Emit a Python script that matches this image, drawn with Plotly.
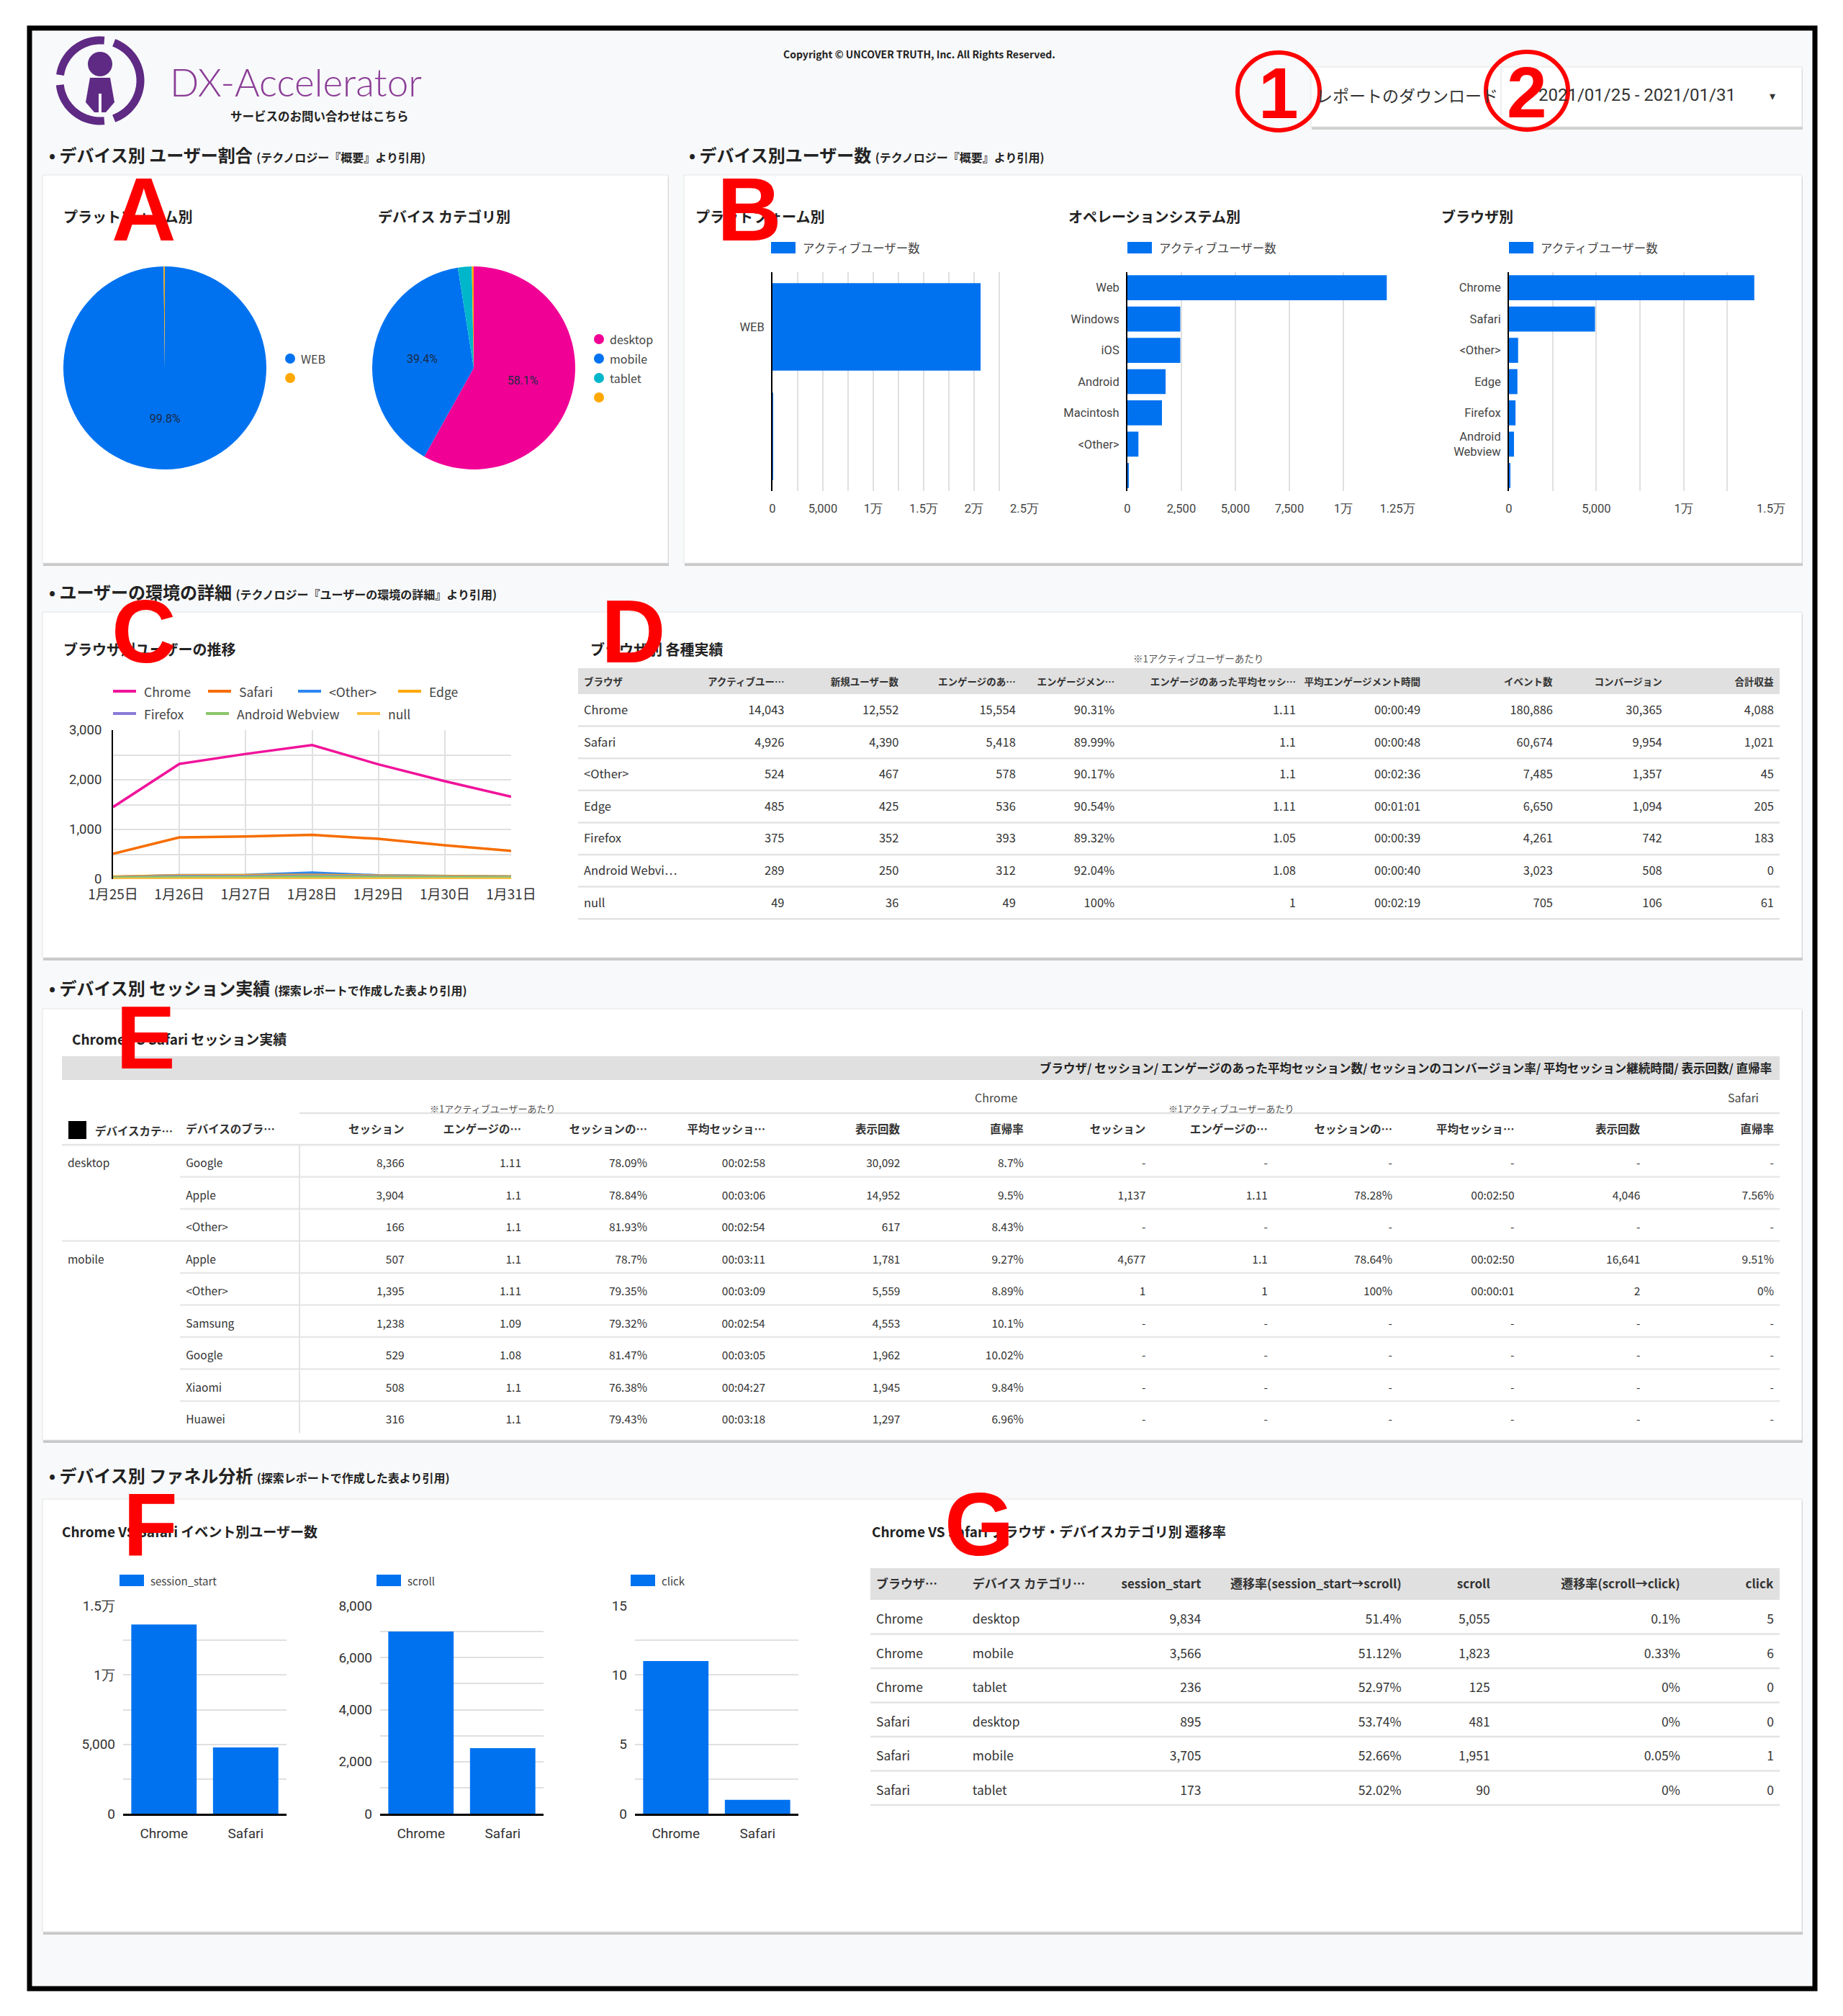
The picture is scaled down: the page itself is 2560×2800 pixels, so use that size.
import numpy as np
import plotly.graph_objects as go

W, H = 2560, 2800
OFF = 8  # page body margin
def X(p): return (p - OFF) / W
def Y(p): return 1 - (p - OFF) / H

FONT = "Noto Sans CJK JP, Roboto, sans-serif"
TXT = "#333333"
GRID = "#e0e0e0"
BLUE = "#0072f0"
MAGENTA = "#f10096"
TEAL = "#00b6cb"
ORANGE = "#ffa800"

# ---------------- DATA ----------------
platform_labels = ["WEB", ""]
platform_pct = [99.8, 0.2]
device_labels = ["desktop", "mobile", "tablet", ""]
device_pct = [58.1, 39.4, 2.2, 0.3]

platform_cats = ["WEB", " "]
platform_users = [20650, 41]
os_cats = ["Web", "Windows", "iOS", "Android", "Macintosh", "<Other>", " "]
os_users = [12010, 2450, 2450, 1770, 1600, 510, 60]
browser_cats = ["Chrome", "Safari", "<Other>", "Edge", "Firefox", "Android<br>Webview", " "]
browser_users = [14043, 4926, 524, 485, 375, 289, 49]

b1_tickvals = [0, 5000, 10000, 15000, 20000, 25000]
b1_ticktext = ["0", "5,000", "1万", "1.5万", "2万", "2.5万"]
b2_tickvals = [0, 2500, 5000, 7500, 10000, 12500]
b2_ticktext = ["0", "2,500", "5,000", "7,500", "1万", "1.25万"]
b3_tickvals = [0, 5000, 10000, 15000]
b3_ticktext = ["0", "5,000", "1万", "1.5万"]

dates = ["1月25日", "1月26日", "1月27日", "1月28日", "1月29日", "1月30日", "1月31日"]
chrome_trend = [1450, 2320, 2520, 2700, 2310, 1970, 1660]
safari_trend = [510, 840, 860, 890, 810, 680, 570]
other_trend = [45, 80, 85, 130, 75, 60, 50]
edge_trend = [50, 75, 80, 85, 70, 65, 55]
firefox_trend = [35, 60, 60, 65, 55, 50, 45]
webview_trend = [30, 45, 45, 50, 40, 40, 35]
null_trend = [4, 8, 8, 9, 7, 6, 6]
trend_names = ["Chrome", "Safari", "<Other>", "Edge", "Firefox", "Android Webview", "null"]
trend_colors = ["#f0139a", "#f66d00", "#2d86f0", "#ffa800", "#8a7ad8", "#8cc569", "#ffbe45"]
trend_values = [chrome_trend, safari_trend, other_trend, edge_trend,
                firefox_trend, webview_trend, null_trend]
c_ytickvals = [0, 1000, 2000, 3000]
c_yticktext = ["0", "1,000", "2,000", "3,000"]

d_headers = ["ブラウザ", "アクティブユー…", "新規ユーザー数", "エンゲージのあ…", "エンゲージメン…",
             "エンゲージのあった平均セッシ…", "平均エンゲージメント時間", "イベント数", "コンバージョン", "合計収益"]
d_browser = ["Chrome", "Safari", "&lt;Other&gt;", "Edge", "Firefox", "Android\u00a0Webvi…", "null"]
d_active = ["14,043", "4,926", "524", "485", "375", "289", "49"]
d_new = ["12,552", "4,390", "467", "425", "352", "250", "36"]
d_engaged = ["15,554", "5,418", "578", "536", "393", "312", "49"]
d_eng_rate = ["90.31%", "89.99%", "90.17%", "90.54%", "89.32%", "92.04%", "100%"]
d_eng_sess = ["1.11", "1.1", "1.1", "1.11", "1.05", "1.08", "1"]
d_eng_time = ["00:00:49", "00:00:48", "00:02:36", "00:01:01", "00:00:39", "00:00:40", "00:02:19"]
d_events = ["180,886", "60,674", "7,485", "6,650", "4,261", "3,023", "705"]
d_conv = ["30,365", "9,954", "1,357", "1,094", "742", "508", "106"]
d_revenue = ["4,088", "1,021", "45", "205", "183", "0", "61"]

e_first_header = "デバイスカテ…"
e_headers = ["", "デバイスのブラ…", "セッション", "エンゲージの…", "セッションの…",
             "平均セッショ…", "表示回数", "直帰率", "セッション", "エンゲージの…", "セッションの…",
             "平均セッショ…", "表示回数", "直帰率"]
e_category = ["desktop", "", "", "mobile", "", "", "", "", ""]
e_brand = ["Google", "Apple", "&lt;Other&gt;", "Apple", "&lt;Other&gt;", "Samsung", "Google", "Xiaomi", "Huawei"]
e_ch_sessions = ["8,366", "3,904", "166", "507", "1,395", "1,238", "529", "508", "316"]
e_ch_eng = ["1.11", "1.1", "1.1", "1.1", "1.11", "1.09", "1.08", "1.1", "1.1"]
e_ch_conv = ["78.09%", "78.84%", "81.93%", "78.7%", "79.35%", "79.32%", "81.47%", "76.38%", "79.43%"]
e_ch_dur = ["00:02:58", "00:03:06", "00:02:54", "00:03:11", "00:03:09", "00:02:54", "00:03:05", "00:04:27", "00:03:18"]
e_ch_views = ["30,092", "14,952", "617", "1,781", "5,559", "4,553", "1,962", "1,945", "1,297"]
e_ch_bounce = ["8.7%", "9.5%", "8.43%", "9.27%", "8.89%", "10.1%", "10.02%", "9.84%", "6.96%"]
e_sf_sessions = ["-", "1,137", "-", "4,677", "1", "-", "-", "-", "-"]
e_sf_eng = ["-", "1.11", "-", "1.1", "1", "-", "-", "-", "-"]
e_sf_conv = ["-", "78.28%", "-", "78.64%", "100%", "-", "-", "-", "-"]
e_sf_dur = ["-", "00:02:50", "-", "00:02:50", "00:00:01", "-", "-", "-", "-"]
e_sf_views = ["-", "4,046", "-", "16,641", "2", "-", "-", "-", "-"]
e_sf_bounce = ["-", "7.56%", "-", "9.51%", "0%", "-", "-", "-", "-"]

f_browsers = ["Chrome", "Safari"]
f_session_start = [13636, 4773]
f_scroll = [7003, 2522]
f_click = [11, 1]
f1_tickvals = [0, 5000, 10000, 15000]
f1_ticktext = ["0", "5,000", "1万", "1.5万"]
f2_tickvals = [0, 2000, 4000, 6000, 8000]
f2_ticktext = ["0", "2,000", "4,000", "6,000", "8,000"]
f3_tickvals = [0, 5, 10, 15]
f3_ticktext = ["0", "5", "10", "15"]

g_headers = ["ブラウザ…", "デバイス カテゴリ…", "session_start", "遷移率(session_start→scroll)",
             "scroll", "遷移率(scroll→click)", "click"]
g_browser = ["Chrome", "Chrome", "Chrome", "Safari", "Safari", "Safari"]
g_device = ["desktop", "mobile", "tablet", "desktop", "mobile", "tablet"]
g_session = ["9,834", "3,566", "236", "895", "3,705", "173"]
g_rate1 = ["51.4%", "51.12%", "52.97%", "53.74%", "52.66%", "52.02%"]
g_scroll = ["5,055", "1,823", "125", "481", "1,951", "90"]
g_rate2 = ["0.1%", "0.33%", "0%", "0%", "0.05%", "0%"]
g_click = ["5", "6", "0", "0", "1", "0"]

# ---------------- FIGURE ----------------
fig = go.Figure()
shapes = []
annots = []

def txt(x, y, s, size, color=TXT, xanchor="left", family=FONT, yanchor="middle"):
    annots.append(dict(x=X(x), y=Y(y), xref="paper", yref="paper", text=s, showarrow=False,
                       xanchor=xanchor, yanchor=yanchor,
                       font=dict(size=size, color=color, family=family)))

def rect(x0, y0, x1, y1, fill, line="rgba(0,0,0,0)", lw=0, layer="below"):
    shapes.append(dict(type="rect", xref="paper", yref="paper", x0=X(x0), x1=X(x1), y0=Y(y1), y1=Y(y0),
                       fillcolor=fill, line=dict(color=line, width=lw), layer=layer))

def hline(x0, x1, y, color=GRID, lw=2, layer="below"):
    shapes.append(dict(type="line", xref="paper", yref="paper", x0=X(x0), x1=X(x1), y0=Y(y), y1=Y(y),
                       line=dict(color=color, width=lw), layer=layer))

def vline(x, y0, y1, color=GRID, lw=2):
    shapes.append(dict(type="line", xref="paper", yref="paper", x0=X(x), x1=X(x), y0=Y(y0), y1=Y(y1),
                       line=dict(color=color, width=lw), layer="below"))

def panel(x0, y0, x1, y1):
    rect(x0 + 1, y0 + 3, x1 + 1, y1 + 4, "#c8c8c8")
    rect(x0, y0, x1, y1, "#ffffff", "#e4e4e4", 1)

# outer frame + background
rect(41, 39, 2521, 2762, "#f8f9fa", "#000000", 7)

# panels
panel(59, 243, 928, 782)
panel(950, 243, 2503, 782)
panel(59, 850, 2503, 1330)
panel(59, 1401, 2503, 2000)
panel(59, 2082, 2503, 2683)

# ---------- header ----------
PURPLE = "#5e2a84"
cx, cy, rr = 139, 112, 56
gaps = [(70, 84), (172, 186), (276, 290)]
starts = [g[1] for g in gaps]
ends = [gaps[(i + 1) % 3][0] + (360 if i == 2 else 0) for i in range(3)]
for a0, a1 in zip(starts, ends):
    ang = np.radians(np.linspace(a0, a1, 40))
    pts = [(cx + rr * np.cos(a), cy - rr * np.sin(a)) for a in ang]
    path = "M " + " L ".join(f"{X(px):.5f},{Y(py):.5f}" for px, py in pts)
    shapes.append(dict(type="path", xref="paper", yref="paper", path=path,
                       line=dict(color=PURPLE, width=11), layer="above"))
shapes.append(dict(type="circle", xref="paper", yref="paper", x0=X(cx - 17), x1=X(cx + 17),
                   y0=Y(cy - 6), y1=Y(cy - 40), fillcolor=PURPLE, line=dict(width=0), layer="above"))
body = [(cx - 14, cy - 4), (cx + 14, cy - 4), (cx + 20, cy + 30), (cx + 8, cy + 44),
        (cx - 8, cy + 44), (cx - 20, cy + 30)]
shapes.append(dict(type="path", xref="paper", yref="paper",
                   path="M " + " L ".join(f"{X(px):.5f},{Y(py):.5f}" for px, py in body) + " Z",
                   fillcolor=PURPLE, line=dict(width=0), layer="above"))
shapes.append(dict(type="line", xref="paper", yref="paper", x0=X(cx), x1=X(cx), y0=Y(cy + 18), y1=Y(cy + 48),
                   line=dict(color="#f8f9fa", width=4), layer="above"))

annots.append(dict(x=X(234), y=Y(114), xref="paper", yref="paper", text="DX-Accelerator", showarrow=False,
                   xanchor="left", yanchor="middle",
                   font=dict(size=53, color="#8a3c96", family="Lato", weight=300)))
txt(318, 161, "<b>サービスのお問い合わせはこちら</b>", 16.5, "#222")
txt(1277, 75, "<b>Copyright © UNCOVER TRUTH, Inc. All Rights Reserved.</b>", 14, "#222", xanchor="center")

# buttons
rect(1822, 96, 2086, 180, "#d0d0d0")
rect(1821, 93, 2085, 176, "#ffffff", "#e4e4e4", 1)
rect(2086, 96, 2504, 180, "#d0d0d0")
rect(2085, 93, 2503, 176, "#ffffff", "#e4e4e4", 1)
txt(1826, 132, "レポートのダウンロード", 23, "#333")
txt(2135, 132, "2021/01/25 - 2021/01/31", 24, "#333", family="Roboto")
txt(2462, 132, "▾", 16, "#333", xanchor="center")

RED = "#ff0000"
for (ccx, ccy, d) in [(1776, 127, "1"), (2121, 126, "2")]:
    shapes.append(dict(type="circle", xref="paper", yref="paper", x0=X(ccx - 57), x1=X(ccx + 57),
                       y0=Y(ccy + 54), y1=Y(ccy - 54), line=dict(color=RED, width=6), layer="above"))
    txt(ccx, ccy + 2, f"<b>{d}</b>", 100, RED, xanchor="center", family="Liberation Sans")

# section headers
def section(x, y, main, sub):
    txt(x, y, f"<b>• {main} <span style='font-size:16px'>{sub}</span></b>", 24, "#222")

section(66, 214, "デバイス別 ユーザー割合", "(テクノロジー『概要』より引用)")
section(955, 214, "デバイス別ユーザー数", "(テクノロジー『概要』より引用)")
section(66, 821, "ユーザーの環境の詳細", "(テクノロジー『ユーザーの環境の詳細』より引用)")
section(66, 1371, "デバイス別 セッション実績", "(探索レポートで作成した表より引用)")
section(66, 2048, "デバイス別 ファネル分析", "(探索レポートで作成した表より引用)")

# ---------- A: pies ----------
def pie(labels, vals, colors, pcx, pcy, r):
    fig.add_trace(go.Pie(labels=labels, values=vals, sort=False, direction="clockwise", rotation=0,
                         marker=dict(colors=colors, line=dict(width=0)),
                         text=[f"{v}%" if v > 10 else "" for v in vals], textinfo="text",
                         textposition="inside", insidetextorientation="horizontal",
                         insidetextfont=dict(size=16, color="#1d2a44", family="Roboto"),
                         domain=dict(x=[X(pcx - r), X(pcx + r)], y=[Y(pcy + r), Y(pcy - r)]),
                         showlegend=False, hoverinfo="skip", automargin=False))

pie(platform_labels, platform_pct, [BLUE, ORANGE], 229, 511, 141)
pie(device_labels, device_pct, [MAGENTA, BLUE, TEAL, ORANGE], 658, 511, 141)

def circle_legend(x, y0, labels, colors):
    for i, (lab, col) in enumerate(zip(labels, colors)):
        yy = y0 + 27 * i
        shapes.append(dict(type="circle", xref="paper", yref="paper", xsizemode="pixel", ysizemode="pixel",
                           xanchor=X(x), yanchor=Y(yy), x0=-7, x1=7, y0=-7, y1=7,
                           fillcolor=col, line=dict(width=0), layer="above"))
        txt(x + 13, yy, lab, 16, "#444")

circle_legend(403, 498, platform_labels, [BLUE, ORANGE])
circle_legend(832, 471, device_labels, [MAGENTA, BLUE, TEAL, ORANGE])
txt(86, 300, "<b>プラットフォーム別</b>", 20, "#222")
txt(523, 300, "<b>デバイス カテゴリ別</b>", 20, "#222")

# ---------- B: horizontal bars ----------
TICKF = dict(size=16.5, color="#444", family="Roboto")

def sq_legend(x, y, label):
    rect(x, y - 8, x + 34, y + 8, BLUE, layer="above")
    txt(x + 42, y, label, 16.5, "#444")

def hbar(idx, cats, vals, x0, x1, y0, y1, rng, tv, tt, minor):
    fig.add_trace(go.Bar(x=vals, y=cats, orientation="h", marker=dict(color=BLUE, line=dict(width=0)),
                         xaxis=f"x{idx}", yaxis=f"y{idx}", showlegend=False, hoverinfo="skip"))
    xa = dict(domain=[X(x0), X(x1)], range=rng, anchor=f"y{idx}", tickvals=tv, ticktext=tt,
              showgrid=True, gridcolor=GRID, gridwidth=1.5, zeroline=False, showline=False, ticks="",
              tickfont=TICKF, ticklabelstandoff=12, fixedrange=True, automargin=False)
    if minor:
        xa["minor"] = dict(dtick=minor, showgrid=True, gridcolor=GRID, gridwidth=1.5)
    ya = dict(domain=[Y(y1), Y(y0)], anchor=f"x{idx}", autorange="reversed", showline=True,
              linecolor="#000", linewidth=2, ticks="", showgrid=False, tickfont=TICKF,
              ticklabelstandoff=6, fixedrange=True, automargin=False)
    fig.layout[f"xaxis{idx}"] = xa
    fig.layout[f"yaxis{idx}"] = ya

hbar(1, platform_cats, platform_users, 1073, 1423, 378, 682, [0, 25000], b1_tickvals, b1_ticktext, 2500)
hbar(2, os_cats, os_users, 1566, 1941, 378, 682, [0, 12500], b2_tickvals, b2_ticktext, None)
hbar(3, browser_cats, browser_users, 2096, 2460, 378, 682, [0, 15000], b3_tickvals, b3_ticktext, 2500)
sq_legend(1071, 344, "アクティブユーザー数")
sq_legend(1566, 344, "アクティブユーザー数")
sq_legend(2096, 344, "アクティブユーザー数")
txt(964, 300, "<b>プラットフォーム別</b>", 20, "#222")
txt(1482, 300, "<b>オペレーションシステム別</b>", 20, "#222")
txt(2000, 300, "<b>ブラウザ別</b>", 20, "#222")

# ---------- C: line chart ----------
for name, vals, col in zip(trend_names, trend_values, trend_colors):
    fig.add_trace(go.Scatter(x=dates, y=vals, mode="lines", name=name, line=dict(color=col, width=3.5),
                             xaxis="x4", yaxis="y4", showlegend=False, hoverinfo="skip"))
fig.layout["xaxis4"] = dict(domain=[X(157), X(710)], anchor="y4", type="category", range=[0, 6],
                            showgrid=True, gridcolor=GRID, gridwidth=1.5, ticks="", showline=False,
                            tickfont=dict(size=19, color="#333", family=FONT), ticklabelstandoff=8,
                            fixedrange=True, automargin=False)
fig.layout["yaxis4"] = dict(domain=[Y(1221), Y(1014)], anchor="x4", range=[0, 3000],
                            tickvals=c_ytickvals, ticktext=c_yticktext, showgrid=True, gridcolor=GRID,
                            gridwidth=1.5, minor=dict(dtick=500, showgrid=True, gridcolor=GRID, gridwidth=1.5),
                            showline=True, linecolor="#000", linewidth=2, zeroline=False, ticks="",
                            tickfont=dict(size=18.5, color="#333", family="Roboto"), ticklabelstandoff=10,
                            fixedrange=True, automargin=False)
txt(86, 901, "<b>ブラウザ別ユーザーの推移</b>", 20, "#222")
leg_pos = [(157, 960), (289, 960), (414, 960), (553, 960), (157, 991), (286, 991), (496, 991)]
for (lx, ly), name, col in zip(leg_pos, trend_names, trend_colors):
    hline(lx, lx + 32, ly, col, 4, layer="above")
    txt(lx + 41, ly, name, 17.5, "#444")

# ---------- tables ----------
def table(cols, headers, widths, aligns, x0, x1, ytop, hh, rh, hfont, cfont, shift=0):
    n = len(cols[0])
    # wrap every cell in a neutral tag so all cells share the same text layout path
    cols = [[f"<span>{v}</span>" if v else "" for v in col] for col in cols]
    fig.add_trace(go.Table(
        domain=dict(x=[X(x0), X(x1)], y=[Y(ytop + hh + shift + rh * n + 12), Y(ytop)]),
        columnwidth=widths,
        header=dict(values=[f"<b>{h}</b>" if h else "" for h in headers], align=aligns, height=hh + shift,
                    fill=dict(color="rgba(0,0,0,0)"), line=dict(color="rgba(0,0,0,0)", width=0),
                    font=dict(size=hfont, color="#333", family=FONT)),
        cells=dict(values=cols, align=aligns, height=rh,
                   fill=dict(color="rgba(0,0,0,0)"), line=dict(color="rgba(0,0,0,0)", width=0),
                   font=dict(size=cfont, color="#333", family=FONT))))

# D
txt(818, 901, "<b>ブラウザ別 各種実績</b>", 20, "#222")
txt(1664, 914, "※1アクティブユーザーあたり", 13.5, "#555", xanchor="center")
rect(803, 928, 2472, 964, "#e0e0e0")
D_RH = 44.6
for i in range(len(d_browser)):
    hline(803, 2472, 964 + D_RH * (i + 1), "#e3e3e3", 2.5)
table([d_browser, d_active, d_new, d_engaged, d_eng_rate, d_eng_sess, d_eng_time, d_events, d_conv, d_revenue],
      d_headers, [80, 85, 89, 91, 77, 141, 97, 103, 85, 87], ["left"] + ["right"] * 9,
      803, 2472, 928, 36, D_RH, 13.5, 16.5, shift=1)

# E
txt(98, 1442, "<b>Chrome VS Safari セッション実績</b>", 19, "#222")
rect(86, 1467, 2472, 1500, "#e0e0e0")
txt(2463, 1483, "<b>ブラウザ/ セッション/ エンゲージのあった平均セッション数/ セッションのコンバージョン率/ 平均セッション継続時間/ 表示回数/ 直帰率</b>",
    16.5, "#222", xanchor="right")
txt(1415, 1524, "Chrome", 16, "#444", xanchor="right")
txt(2445, 1524, "Safari", 16, "#444", xanchor="right")
txt(684, 1539, "※1アクティブユーザーあたり", 13, "#555", xanchor="center")
txt(1710, 1539, "※1アクティブユーザーあたり", 13, "#555", xanchor="center")
hline(416, 2472, 1546, "#e3e3e3", 2.5)
rect(95, 1557, 120, 1582, "#000000", layer="above")
txt(130, 1570, f"<b>{e_first_header}</b>", 15.5, "#333")
E_RH = 44.5
hline(86, 2472, 1590, "#e3e3e3", 2.5)
for i in range(len(e_brand) - 1):
    x_start = 86 if e_category[i + 1] != "" else 250
    hline(x_start, 2472, 1590 + E_RH * (i + 1), "#e8e8e8", 2.5)
vline(416, 1590, 1590 + E_RH * len(e_brand), "#e3e3e3", 2)
table([e_category, e_brand, e_ch_sessions, e_ch_eng, e_ch_conv, e_ch_dur, e_ch_views, e_ch_bounce,
       e_sf_sessions, e_sf_eng, e_sf_conv, e_sf_dur, e_sf_views, e_sf_bounce],
      e_headers, [92, 93, 86, 91, 98, 92, 105, 96, 95, 95, 97, 95, 98, 104],
      ["left", "left"] + ["right"] * 12, 86, 2472, 1548, 44, E_RH, 15.5, 15.5, shift=3)

# ---------- F: vertical bars ----------
def vbar(idx, vals, x0, x1, rng, tv, tt, minor, legend_x, legend_label):
    fig.add_trace(go.Bar(x=f_browsers, y=vals, marker=dict(color=BLUE, line=dict(width=0)),
                         xaxis=f"x{idx}", yaxis=f"y{idx}", showlegend=False, hoverinfo="skip"))
    fig.layout[f"xaxis{idx}"] = dict(domain=[X(x0), X(x1)], anchor=f"y{idx}", showline=True,
                                     linecolor="#000", linewidth=2.5, ticks="", showgrid=False,
                                     tickfont=dict(size=19, color="#333", family="Roboto"),
                                     ticklabelstandoff=8, fixedrange=True, automargin=False)
    fig.layout[f"yaxis{idx}"] = dict(domain=[Y(2519), Y(2230)], anchor=f"x{idx}", range=rng,
                                     tickvals=tv, ticktext=tt, showgrid=True, gridcolor=GRID, gridwidth=1.5,
                                     minor=dict(dtick=minor, showgrid=True, gridcolor=GRID, gridwidth=1.5),
                                     zeroline=False, showline=False, ticks="",
                                     tickfont=dict(size=19, color="#333", family="Roboto"),
                                     ticklabelstandoff=10, fixedrange=True, automargin=False)
    rect(legend_x, 2187, legend_x + 34, 2203, BLUE, layer="above")
    txt(legend_x + 41, 2195, legend_label, 15, "#444")

vbar(5, f_session_start, 171, 398, [0, 15000], f1_tickvals, f1_ticktext, 2500, 166, "session_start")
vbar(6, f_scroll, 528, 755, [0, 8000], f2_tickvals, f2_ticktext, 1000, 523, "scroll")
vbar(7, f_click, 882, 1109, [0, 15], f3_tickvals, f3_ticktext, 2.5, 876, "click")
txt(84, 2126, "<b>Chrome VS Safari イベント別ユーザー数</b>", 19, "#222")

# G
txt(1209, 2126, "<b>Chrome VS Safari ブラウザ・デバイスカテゴリ別 遷移率</b>", 19, "#222")
rect(1209, 2178, 2472, 2222, "#e0e0e0")
G_RH = 47.5
for i in range(len(g_browser)):
    hline(1209, 2472, 2222 + G_RH * (i + 1), "#e3e3e3", 2.5)
table([g_browser, g_device, g_session, g_rate1, g_scroll, g_rate2, g_click], g_headers,
      [75, 106, 81, 156, 69, 148, 73], ["left", "left", "right", "right", "right", "right", "right"],
      1209, 2472, 2178, 44, G_RH, 17, 17.5, shift=5)

# ---------- red markers ----------
for lab, lx, ly in [("A", 200, 291), ("B", 1041, 291), ("C", 200, 877), ("D", 880, 877),
                    ("E", 202, 1441), ("F", 209, 2117), ("G", 1360, 2117)]:
    txt(lx, ly, f"<b>{lab}</b>", 124, RED, xanchor="center", family="Liberation Sans")

fig.update_layout(width=W, height=H, margin=dict(l=0, r=0, t=0, b=0, autoexpand=False),
                  paper_bgcolor="#ffffff", template="none",
                  plot_bgcolor="rgba(0,0,0,0)", shapes=shapes, annotations=annots, bargap=0.2,
                  showlegend=False, font=dict(family=FONT, color=TXT), hovermode=False)
fig.write_html("out.html", config={"displayModeBar": False})
